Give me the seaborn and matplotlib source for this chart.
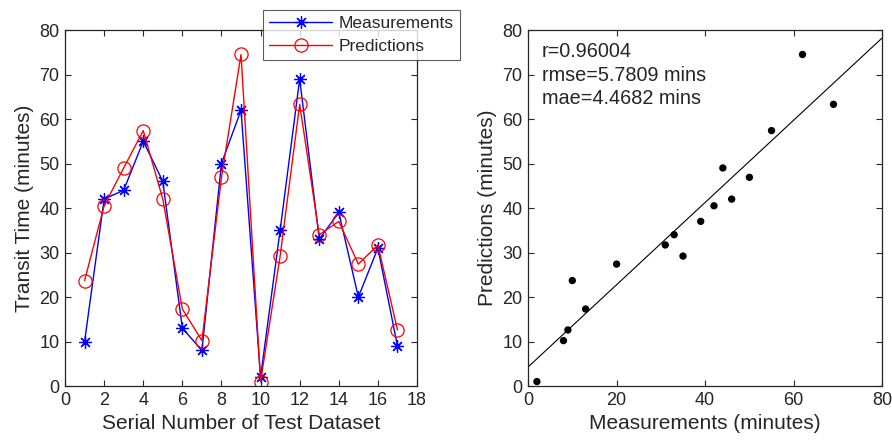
import numpy as np
import pandas as pd
import matplotlib
matplotlib.use('Agg')
import matplotlib.pyplot as plt
import seaborn as sns

# values
serial = list(range(1, 18))
measurements = [10, 42, 44, 55, 46, 13, 8, 50, 62, 2, 35, 69, 33, 39, 20, 31, 9]
predictions = [23.7, 40.5, 49, 57.4, 42, 17.3, 10.2, 46.9, 74.5, 1, 29.2, 63.3, 34, 37, 27.4, 31.7, 12.6]
stats_text = ['r=0.96004', 'rmse=5.7809 mins', 'mae=4.4682 mins']

df = pd.DataFrame({'serial': serial, 'meas': measurements, 'pred': predictions})

sns.set_theme(style='white')
plt.rcParams['font.family'] = ['Liberation Sans', 'DejaVu Sans']
plt.rcParams['xtick.direction'] = 'in'
plt.rcParams['ytick.direction'] = 'in'

fig = plt.figure(figsize=(8.92, 4.44), dpi=100)
ax1 = fig.add_axes([0.0729, 0.1306, 0.3946, 0.8018])
ax2 = fig.add_axes([0.592, 0.1306, 0.397, 0.8018])

# left: line plot of both series
sns.lineplot(data=df, x='serial', y='meas', ax=ax1, color='#0000ff', lw=1,
             marker=(8, 2, 0), markersize=9, markeredgecolor='#0000ff', markeredgewidth=0.9,
             label='Measurements')
sns.lineplot(data=df, x='serial', y='pred', ax=ax1, color='#ff0000', lw=1,
             marker='o', markersize=9.5, markerfacecolor='none', markeredgecolor='#ff0000',
             markeredgewidth=0.9, label='Predictions')
ax1.set_xlim(0, 18)
ax1.set_ylim(0, 80)
ax1.set_xticks(range(0, 19, 2))
ax1.set_yticks(range(0, 81, 10))
ax1.set_xlabel('Serial Number of Test Dataset', fontsize=15)
ax1.set_ylabel('Transit Time (minutes)', fontsize=15)
leg = ax1.legend(loc='upper right', bbox_to_anchor=(460 / 892, 1 - 10 / 444),
                 bbox_transform=fig.transFigure, fontsize=12.5, frameon=True,
                 fancybox=False, borderpad=0.35, labelspacing=0.45, handlelength=3.6,
                 handletextpad=0.4, borderaxespad=0)
leg.get_frame().set_edgecolor('#333333')
leg.get_frame().set_linewidth(0.8)

# right: scatter with fitted line
ax2.set_xlim(0, 80)
ax2.set_ylim(0, 80)
sns.regplot(data=df, x='meas', y='pred', ax=ax2, ci=None, truncate=False,
            scatter_kws={'color': 'black', 's': 28, 'edgecolor': 'none', 'alpha': 1},
            line_kws={'color': 'black', 'lw': 0.8})
ax2.set_xlim(0, 80)
ax2.set_ylim(0, 80)
ax2.set_xticks(range(0, 81, 20))
ax2.set_yticks(range(0, 81, 10))
ax2.set_xlabel('Measurements (minutes)', fontsize=15)
ax2.set_ylabel('Predictions (minutes)', fontsize=15)
ax2.text(0.038, 0.965, '\n'.join(stats_text), transform=ax2.transAxes,
         fontsize=14.3, va='top', ha='left', linespacing=1.3)

for ax in (ax1, ax2):
    for s in ax.spines.values():
        s.set_color('#262626')
        s.set_linewidth(0.9)
    ax.tick_params(labelsize=13, colors='#262626', length=4, width=0.8,
                   top=True, right=True, bottom=True, left=True, pad=4)
    ax.xaxis.label.set_color('#262626')
    ax.yaxis.label.set_color('#262626')

fig.savefig('out.png', dpi=100)
